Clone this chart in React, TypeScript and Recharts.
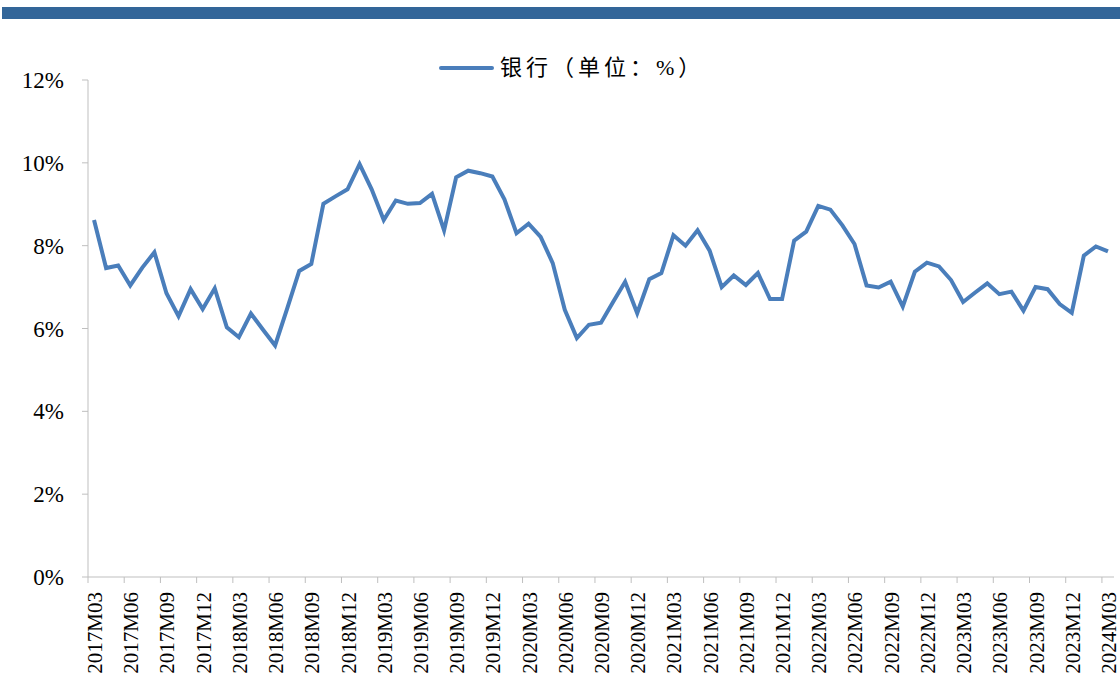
import React from "react";
import { LineChart, Line, XAxis, YAxis } from "recharts";

const START_YEAR = 2017;
const START_MONTH = 3;

// 银行 monthly values (%), 2017M03 - 2024M03
const bankValues = [
  8.62, 7.46, 7.52, 7.04, 7.47, 7.84, 6.85, 6.3, 6.95, 6.47, 6.97, 6.03,
  5.79, 6.36, 5.97, 5.59, 6.48, 7.39, 7.56, 9.01, 9.19, 9.36, 9.97, 9.36,
  8.62, 9.09, 9.01, 9.03, 9.25, 8.37, 9.65, 9.81, 9.75, 9.67, 9.12, 8.3,
  8.53, 8.21, 7.58, 6.45, 5.77, 6.09, 6.14, 6.64, 7.13, 6.37, 7.19, 7.34,
  8.25, 8.0, 8.37, 7.88, 7.0, 7.28, 7.05, 7.34, 6.71, 6.71, 8.12, 8.34,
  8.96, 8.87, 8.49, 8.04, 7.04, 6.99, 7.13, 6.53, 7.37, 7.59, 7.5, 7.17,
  6.64, 6.87, 7.09, 6.83, 6.89, 6.43, 7.0, 6.95, 6.59, 6.38, 7.76, 7.98,
  7.86,
];

const yTicks = [0, 2, 4, 6, 8, 10, 12];

const months = bankValues.map((_, i) => {
  const m = START_MONTH - 1 + i;
  const year = START_YEAR + Math.floor(m / 12);
  const month = (m % 12) + 1;
  return `${year}M${String(month).padStart(2, "0")}`;
});

const data = months.map((month, i) => ({ month, bank: bankValues[i] }));

const W = 1120;
const H = 689;
const PLOT_LEFT = 88;
const PLOT_RIGHT = 1114;
const HALF_BAND = (PLOT_RIGHT - PLOT_LEFT) / data.length / 2;
const SERIF = "'Liberation Serif', 'Times New Roman', serif";

const MonthTick = (props: any) => {
  const { x, y, payload } = props;
  const tx = x - HALF_BAND;
  return (
    <g>
      <line x1={tx} x2={tx} y1={y} y2={y + 6} stroke="#bfbfbf" strokeWidth={1} />
      <text
        x={x + 1}
        y={y + 15}
        transform={`rotate(-90 ${x + 1} ${y + 15})`}
        textAnchor="end"
        dominantBaseline="central"
        fontSize={21}
        fontFamily={SERIF}
        fill="#000"
      >
        {payload.value}
      </text>
    </g>
  );
};

export default function App() {
  return (
    <div style={{ position: "absolute", left: 0, top: 0, width: W, height: H, background: "#fff" }}>
      <div style={{ position: "absolute", left: 2, top: 7, width: W - 2, height: 12, background: "#336699" }} />
      <div style={{ position: "absolute", left: 438, top: 53, display: "flex", alignItems: "center" }}>
        <svg width={56} height={10}>
          <line x1={3} x2={54} y1={5} y2={5} stroke="#4A7EBB" strokeWidth={4} strokeLinecap="round" />
        </svg>
        <span
          style={{
            marginLeft: 6,
            fontSize: 22,
            lineHeight: "30px",
            fontFamily: "'Liberation Serif', 'Noto Sans CJK SC', serif",
            color: "#000",
            letterSpacing: 4,
          }}
        >
          银行（单位：%）
        </span>
      </div>
      <LineChart
        width={W}
        height={H}
        data={data}
        margin={{ top: 80, right: W - PLOT_RIGHT, bottom: 0, left: 0 }}
        style={{ position: "absolute", left: 0, top: 0 }}
      >
        <XAxis
          dataKey="month"
          scale="band"
          interval={2}
          height={112}
          tickLine={false}
          tickSize={0}
          tickMargin={0}
          axisLine={{ stroke: "#bfbfbf" }}
          tick={<MonthTick />}
        />
        <YAxis
          width={PLOT_LEFT}
          domain={[0, 12]}
          ticks={yTicks}
          tickFormatter={(v: number) => `${v}%`}
          tickSize={6}
          tickMargin={18}
          axisLine={{ stroke: "#bfbfbf" }}
          tickLine={{ stroke: "#bfbfbf" }}
          tick={{ fontSize: 23, fontFamily: SERIF, fill: "#000" }}
        />
        <Line
          type="linear"
          dataKey="bank"
          stroke="#4A7EBB"
          strokeWidth={4}
          dot={false}
          isAnimationActive={false}
        />
      </LineChart>
    </div>
  );
}
